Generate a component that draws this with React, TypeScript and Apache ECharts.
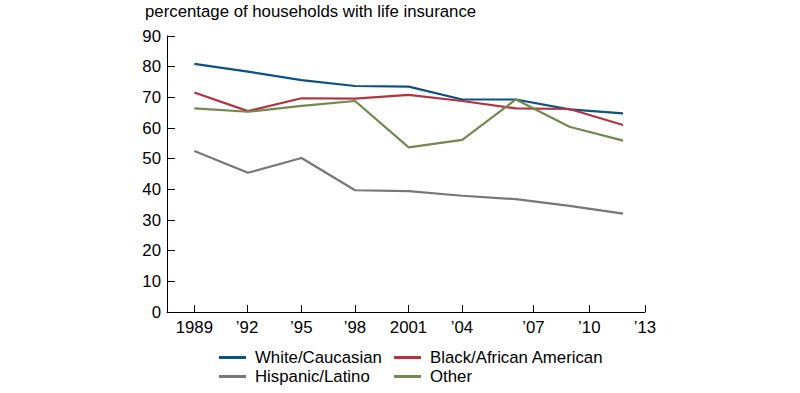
import React, { useEffect, useRef } from "react";
import * as echarts from "echarts";

const years = [1989, 1992, 1995, 1998, 2001, 2004, 2007, 2010, 2013];
const white = [80.9, 78.4, 75.6, 73.7, 73.5, 69.3, 69.3, 66.1, 64.8];
const black = [71.6, 65.5, 69.7, 69.6, 70.8, 68.8, 66.4, 66.2, 61.0];
const hispanic = [52.5, 45.4, 50.2, 39.7, 39.4, 37.9, 36.8, 34.6, 32.1];
const other = [66.4, 65.3, 67.2, 68.8, 53.7, 56.1, 69.3, 60.4, 55.9];

const tickPositions = [1989, 1991.95, 1994.99, 1997.99, 2000.99, 2003.98, 2007.98, 2011.11, 2014.23];
const tickLabels = ["1989", "\u201992", "\u201995", "\u201998", "2001", "\u201904", "\u201907", "\u201910", "\u201913"];

const seriesNames = ["White/Caucasian", "Black/African American", "Hispanic/Latino", "Other"];
const seriesColors = ["#0b5283", "#b5323f", "#77777b", "#72884f"];

const FONT = "'Liberation Sans', Arial, Helvetica, sans-serif";
const FS = 16.8;

export default function App() {
  const ref = useRef<HTMLDivElement>(null);
  useEffect(() => {
    document.body.style.margin = "0";
    const chart = echarts.init(ref.current!, null, { renderer: "svg" });
    const allData = [white, black, hispanic, other];
    const legendCommon = {
      orient: "vertical",
      icon: "rect",
      itemWidth: 27,
      itemHeight: 3,
      itemGap: 2,
      padding: 0,
      textStyle: { fontFamily: FONT, fontSize: FS, color: "#000", padding: [0, 0, 0, 4] },
    };
    chart.setOption({
      animation: false,
      textStyle: { fontFamily: FONT },
      title: {
        text: "percentage of households with life insurance",
        left: 145,
        top: 3,
        padding: 0,
        textStyle: { fontFamily: FONT, fontSize: FS, fontWeight: "normal", color: "#000" },
      },
      grid: { left: 167, right: 155, top: 36, bottom: 81, containLabel: false },
      legend: [
        { ...legendCommon, data: [seriesNames[0], seriesNames[2]], left: 219, top: 349 },
        { ...legendCommon, data: [seriesNames[1], seriesNames[3]], left: 394, top: 349 },
      ],
      xAxis: {
        type: "value",
        min: 1987.47,
        max: 2014.23,
        axisLine: { show: true, lineStyle: { color: "#000", width: 1 } },
        axisTick: { show: true, inside: true, length: 7, lineStyle: { color: "#000" }, customValues: tickPositions },
        axisLabel: {
          show: true,
          customValues: tickPositions,
          margin: 7,
          fontSize: FS,
          color: "#000",
          fontFamily: FONT,
          formatter: (v: number) => {
            let best = 0;
            for (let i = 1; i < tickPositions.length; i++) {
              if (Math.abs(tickPositions[i] - v) < Math.abs(tickPositions[best] - v)) best = i;
            }
            return tickLabels[best];
          },
        },
        splitLine: { show: false },
      },
      yAxis: {
        type: "value",
        min: 0,
        max: 90,
        interval: 10,
        axisLine: { show: true, lineStyle: { color: "#000", width: 1 } },
        axisTick: { show: true, inside: true, length: 8, lineStyle: { color: "#000" } },
        axisLabel: { margin: 6, fontSize: FS, color: "#000", fontFamily: FONT },
        splitLine: { show: false },
      },
      series: seriesNames.map((name, i) => ({
        name,
        type: "line",
        symbol: "none",
        color: seriesColors[i],
        lineStyle: { width: 2.2, color: seriesColors[i] },
        data: years.map((y, j) => [y, allData[i][j]]),
      })),
    });
    return () => chart.dispose();
  }, []);
  return <div ref={ref} style={{ width: 800, height: 393 }} />;
}
